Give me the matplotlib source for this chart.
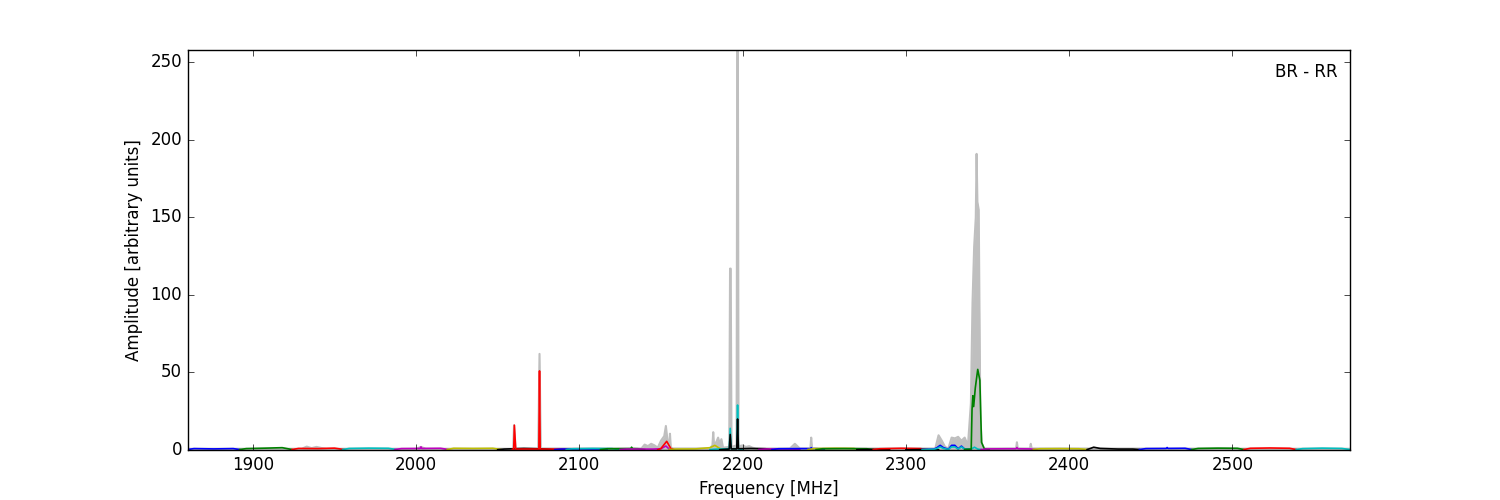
import matplotlib
matplotlib.use('Agg')
import matplotlib.pyplot as plt

# raw spectrum (grey envelope)
gray_freq = [1860, 1930, 1933, 1936, 1939, 1942, 1945, 2000, 2003, 2006, 2058, 2059.5, 2060, 2061,
             2074.8, 2075.6, 2076.4, 2138, 2140, 2142, 2144, 2146, 2148, 2150, 2152, 2153, 2154, 2155,
             2155.5, 2156, 2157, 2180, 2181.5, 2182, 2182.5, 2184, 2185, 2186, 2187, 2188, 2191.8,
             2192.3, 2192.7, 2193.2, 2196.3, 2196.7, 2197.1, 2197.5, 2198, 2200, 2202, 2204, 2206,
             2208, 2229, 2232, 2235, 2241.5, 2242, 2242.5, 2318, 2320, 2322, 2324, 2326, 2328,
             2330, 2332, 2334, 2336, 2338, 2339.8, 2340.8, 2341.8, 2342.8, 2343.3, 2343.8, 2344.6, 2345.6,
             2346.6, 2348, 2367.5, 2368, 2368.5, 2376, 2376.5, 2377, 2572]
gray_amp = [0.8, 0.8, 2.2, 1.2, 2.0, 1.3, 0.8, 0.8, 2.0, 0.8, 0.8, 1.0, 16, 1.0,
            1.0, 62, 1.0, 1.0, 3.5, 2.5, 4.0, 3.0, 1.5, 6.0, 9.0, 15.5, 6.0, 2.0,
            10.5, 2.0, 1.0, 1.0, 3.0, 11.5, 3.0, 5.5, 8.0, 4.0, 7.0, 1.5, 2.0,
            117, 117, 2.0, 3.0, 258, 258, 3.0, 2.5, 3.0, 2.0, 2.5, 1.5,
            1.0, 1.0, 4.0, 1.0, 1.0, 8.0, 1.0, 1.0, 9.5, 6.0, 2.0, 1.0, 8.0,
            7.5, 8.5, 6.0, 8.0, 3.0, 30, 95, 131, 150, 191, 160, 155, 20,
            4.0, 1.0, 1.0, 5.0, 1.0, 1.0, 4.0, 1.0, 0.8]

# channelised sub-bands (colour, frequency knots, amplitude knots)
band_colors = ['b', 'g', 'r', 'c', 'm', 'y', 'k', 'r', 'b', 'c', 'g', 'm', 'r', 'y',
               'c', 'k', 'm', 'b', 'y', 'g', 'k', 'r', 'k', 'b', 'c', 'g', 'm', 'y',
               'k', 'b', 'g', 'r', 'c']
band_freqs = [
    [1860, 1864, 1876, 1888, 1892],
    [1892, 1896, 1908, 1918, 1924],
    [1924, 1928, 1940, 1950, 1956],
    [1955, 1959, 1971, 1983, 1988],
    [1987, 1991, 2002.5, 2003, 2003.5, 2015, 2020],
    [2019, 2023, 2035, 2047, 2052],
    [2050, 2054, 2066, 2078, 2084],
    [2059, 2059.8, 2060.2, 2061, 2075.2, 2075.6, 2076, 2088, 2092],
    [2085, 2089, 2101, 2113, 2117],
    [2092, 2096, 2108, 2120, 2124],
    [2113, 2117, 2131.5, 2132, 2132.5, 2136, 2140],
    [2125, 2129, 2145, 2150, 2153, 2155, 2158],
    [2148, 2150, 2153.5, 2156, 2158],
    [2155, 2159, 2171, 2180, 2183, 2186, 2188],
    [2180, 2184, 2191.8, 2192.4, 2193, 2196.4, 2196.9, 2197.4, 2200],
    [2186, 2190, 2191.8, 2192.4, 2193, 2196.4, 2196.9, 2197.4, 2205, 2214, 2218],
    [2210, 2214, 2224, 2231, 2235],
    [2218, 2222, 2234, 2241.5, 2242, 2242.5, 2246, 2250],
    [2240, 2244, 2256, 2268, 2272],
    [2245, 2249, 2262, 2276, 2280],
    [2270, 2274, 2280, 2286, 2290],
    [2280, 2284, 2297, 2309, 2313],
    [2300, 2304, 2310, 2316, 2320],
    [2310, 2317, 2319, 2321, 2323, 2326, 2328, 2330, 2332, 2334, 2336, 2338, 2340],
    [2310, 2317, 2319, 2321, 2323, 2326, 2328, 2330, 2332, 2334, 2336, 2338, 2340,
     2342, 2344, 2346],
    [2336, 2340, 2340.5, 2341, 2341.5, 2342.5, 2344, 2345.3, 2346.3, 2348, 2351],
    [2346, 2350, 2362, 2367.5, 2368, 2368.5, 2376, 2380],
    [2378, 2382, 2394, 2406, 2411],
    [2411, 2413, 2415, 2419, 2430, 2439, 2443],
    [2443, 2447, 2459.5, 2460, 2460.5, 2471, 2475],
    [2475, 2479, 2491, 2503, 2507],
    [2507, 2511, 2523, 2535, 2539],
    [2539, 2543, 2555, 2567, 2572],
]
band_amps = [
    [0.3, 0.9, 0.7, 0.9, 0.3],
    [0.3, 0.9, 1.2, 1.5, 0.3],
    [0.3, 1.0, 0.9, 1.2, 0.3],
    [0.3, 1.0, 1.2, 1.1, 0.3],
    [0.3, 0.9, 1.0, 2.0, 1.0, 1.1, 0.3],
    [0.3, 1.1, 1.0, 1.1, 0.3],
    [0.2, 0.6, 1.0, 0.7, 0.3],
    [0.5, 0.5, 16, 0.6, 0.6, 51, 0.6, 0.6, 0.5],
    [0.3, 0.6, 0.7, 0.6, 0.3],
    [0.3, 0.8, 1.0, 0.9, 0.3],
    [0.3, 0.8, 0.9, 1.8, 0.9, 0.8, 0.3],
    [0.3, 0.6, 0.6, 0.8, 2.6, 0.6, 0.2],
    [0.2, 1.0, 5.6, 1.0, 0.2],
    [0.3, 0.6, 0.7, 1.5, 3.0, 1.0, 0.3],
    [0.3, 0.6, 0.8, 14, 0.8, 0.8, 29, 0.8, 0.3],
    [0.2, 0.5, 0.6, 10, 0.7, 0.7, 20, 0.8, 1.0, 0.8, 0.3],
    [0.3, 0.6, 0.7, 0.6, 0.3],
    [0.3, 0.8, 0.9, 0.9, 1.5, 0.9, 0.8, 0.3],
    [0.3, 0.9, 1.1, 1.0, 0.3],
    [0.3, 0.8, 0.9, 0.8, 0.3],
    [0.2, 0.3, 0.4, 0.3, 0.2],
    [0.3, 0.8, 1.1, 0.9, 0.3],
    [0.1, 0.2, 0.3, 0.2, 0.1],
    [0.3, 0.5, 1.5, 3.0, 1.5, 0.5, 3.0, 3.0, 0.8, 2.5, 0.6, 0.5, 0.3],
    [0.3, 0.4, 1.0, 2.0, 1.0, 0.4, 2.0, 2.0, 0.6, 2.0, 0.6, 0.5, 0.6,
     1.8, 0.6, 0.3],
    [0.4, 0.6, 26, 35, 28, 40, 52, 45, 5.0, 0.8, 0.4],
    [0.3, 0.7, 0.8, 0.8, 1.6, 0.8, 0.7, 0.3],
    [0.3, 0.8, 0.9, 0.8, 0.3],
    [0.3, 1.0, 1.8, 1.0, 0.6, 0.6, 0.3],
    [0.3, 0.9, 1.0, 1.6, 1.0, 1.1, 0.3],
    [0.3, 1.0, 1.2, 1.1, 0.3],
    [0.3, 1.1, 1.3, 1.1, 0.3],
    [0.3, 0.9, 1.2, 1.0, 0.3],
]

plt.style.use('classic')
fig = plt.figure(figsize=(15, 5), dpi=100)
ax = fig.add_subplot(111)

ax.fill_between(gray_freq, 0, gray_amp, color='0.75', lw=0)
ax.plot(gray_freq, gray_amp, color='0.75', lw=1.5)

for col, fr, am in zip(band_colors, band_freqs, band_amps):
    ax.plot(fr, am, color=col, lw=1.2)

ax.set_xlim(1860, 2572)
ax.set_ylim(0, 258)
ax.set_xlabel('Frequency [MHz]')
ax.set_ylabel('Amplitude [arbitrary units]')
ax.text(0.989, 0.968, 'BR - RR', transform=ax.transAxes, ha='right', va='top')

fig.savefig('out.png', dpi=100)
